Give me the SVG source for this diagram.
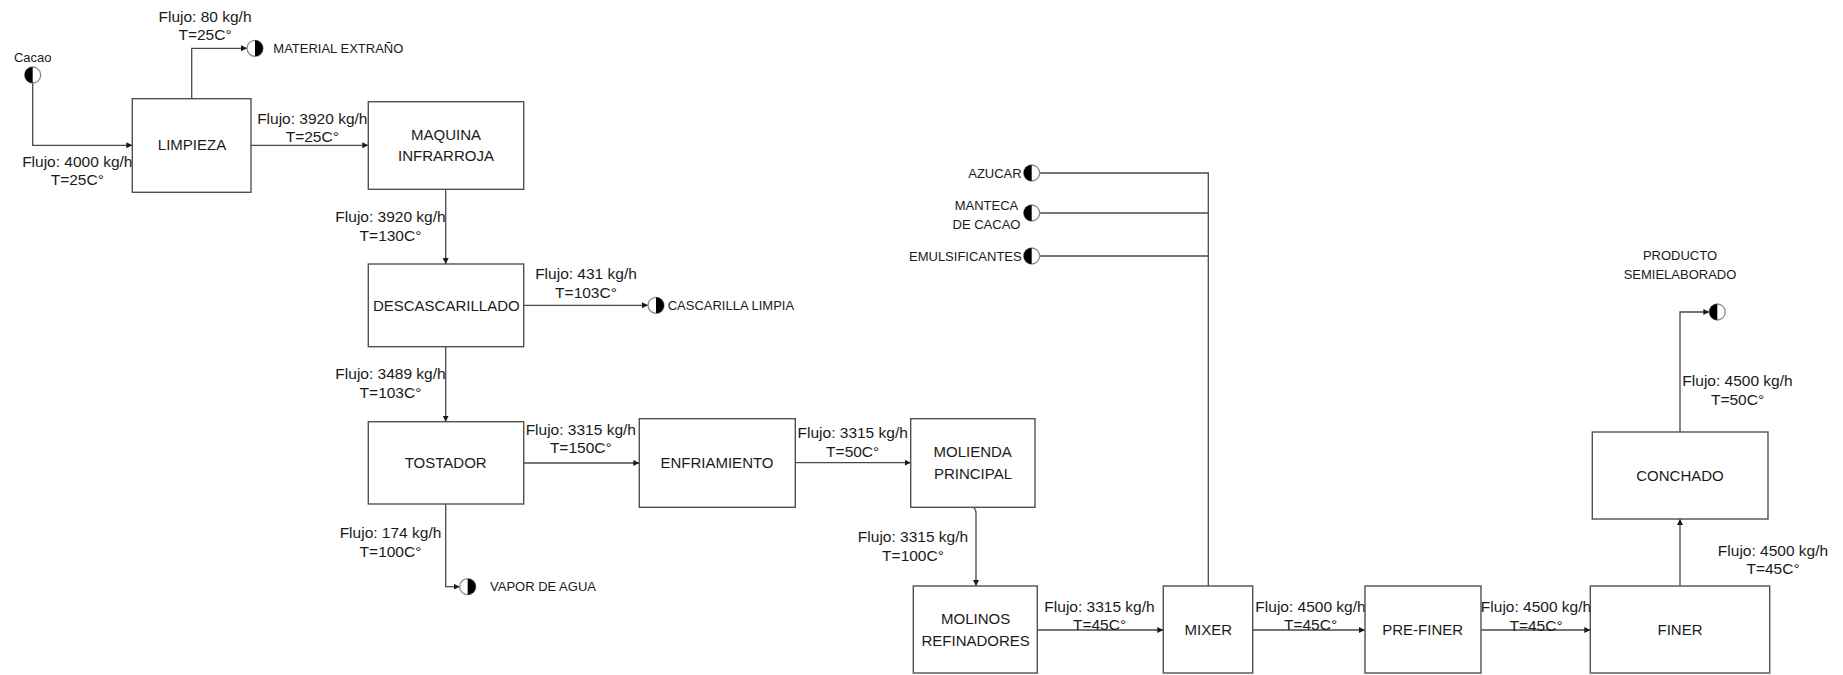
<svg xmlns="http://www.w3.org/2000/svg" width="1843" height="675" viewBox="0 0 1843 675">
<style>
.box{fill:#fff;stroke:#505050;stroke-width:1.4}
.bt{font-family:"Liberation Sans",Arial,sans-serif;font-size:15px;fill:#1a1a1a;text-anchor:middle}
.fl{font-family:"Liberation Sans",Arial,sans-serif;font-size:15.5px;fill:#1a1a1a;text-anchor:middle}
.tl{font-family:"Liberation Sans",Arial,sans-serif;font-size:13px;fill:#1a1a1a}
.ln{fill:none;stroke:#4a4a4a;stroke-width:1.3}
.tc{fill:#fff;stroke:#8a8a8a;stroke-width:1.3}
.th{fill:#000}
</style>
<defs>
<marker id="ar" markerUnits="userSpaceOnUse" markerWidth="7" markerHeight="7" refX="6" refY="3" orient="auto">
<path d="M0,0 L6,3 L0,6 z" fill="#1a1a1a"/>
</marker>
</defs>

<g id="connectors">
<path class="ln" d="M32.7 83 V145.3 H132.3" marker-end="url(#ar)"/>
<path class="ln" d="M191.7 98.7 V48.3 H247" marker-end="url(#ar)"/>
<path class="ln" d="M251 145.3 H368.3" marker-end="url(#ar)"/>
<path class="ln" d="M445.7 189.3 V264" marker-end="url(#ar)"/>
<path class="ln" d="M523.7 305.3 H648" marker-end="url(#ar)"/>
<path class="ln" d="M445.7 346.7 V421.7" marker-end="url(#ar)"/>
<path class="ln" d="M523.7 463 H639.3" marker-end="url(#ar)"/>
<path class="ln" d="M445.7 504 V586.7 H459.7" marker-end="url(#ar)"/>
<path class="ln" d="M795.3 462.7 H910.7" marker-end="url(#ar)"/>
<path class="ln" d="M973.3 507.3 Q976 509 976 514 V586" marker-end="url(#ar)"/>
<path class="ln" d="M1037.3 630 H1163.3" marker-end="url(#ar)"/>
<path class="ln" d="M1039.7 173 H1208.3 V586"/>
<path class="ln" d="M1039.7 213 H1208.3"/>
<path class="ln" d="M1039.7 256 H1208.3"/>
<path class="ln" d="M1252.7 630 H1365" marker-end="url(#ar)"/>
<path class="ln" d="M1481 630 H1590.3" marker-end="url(#ar)"/>
<path class="ln" d="M1680 586 V519" marker-end="url(#ar)"/>
<path class="ln" d="M1680 432 V312 H1709.3" marker-end="url(#ar)"/>
</g>

<g id="flow-labels">
<text class="fl" x="205" y="21.7">Flujo: 80 kg/h</text>
<text class="fl" x="205" y="40">T=25C°</text>
<text class="fl" x="77.3" y="167.3">Flujo: 4000 kg/h</text>
<text class="fl" x="77.3" y="185">T=25C°</text>
<text class="fl" x="312.3" y="124">Flujo: 3920 kg/h</text>
<text class="fl" x="312.3" y="141.7">T=25C°</text>
<text class="fl" x="390.5" y="221.7">Flujo: 3920 kg/h</text>
<text class="fl" x="390.5" y="241">T=130C°</text>
<text class="fl" x="586" y="279.3">Flujo: 431 kg/h</text>
<text class="fl" x="586" y="297.7">T=103C°</text>
<text class="fl" x="390.5" y="379.3">Flujo: 3489 kg/h</text>
<text class="fl" x="390.5" y="397.7">T=103C°</text>
<text class="fl" x="580.8" y="435">Flujo: 3315 kg/h</text>
<text class="fl" x="580.8" y="453.3">T=150C°</text>
<text class="fl" x="390.5" y="538.3">Flujo: 174 kg/h</text>
<text class="fl" x="390.5" y="556.7">T=100C°</text>
<text class="fl" x="852.7" y="438.3">Flujo: 3315 kg/h</text>
<text class="fl" x="852.7" y="457">T=50C°</text>
<text class="fl" x="913" y="541.7">Flujo: 3315 kg/h</text>
<text class="fl" x="913" y="560.7">T=100C°</text>
<text class="fl" x="1099.5" y="611.7">Flujo: 3315 kg/h</text>
<text class="fl" x="1099.5" y="630">T=45C°</text>
<text class="fl" x="1310.5" y="611.7">Flujo: 4500 kg/h</text>
<text class="fl" x="1310.5" y="630">T=45C°</text>
<text class="fl" x="1536" y="612.3">Flujo: 4500 kg/h</text>
<text class="fl" x="1536" y="630.7">T=45C°</text>
<text class="fl" x="1773" y="556">Flujo: 4500 kg/h</text>
<text class="fl" x="1773" y="574.3">T=45C°</text>
<text class="fl" x="1737.5" y="386.3">Flujo: 4500 kg/h</text>
<text class="fl" x="1737.5" y="405">T=50C°</text>
</g>

<g id="limpieza"><rect class="box" x="132.3" y="98.7" width="118.7" height="93.6"/><text class="bt" x="192" y="150.4">LIMPIEZA</text></g>
<g id="maquina-infrarroja"><rect class="box" x="368.3" y="101.7" width="155.4" height="87.6"/><text class="bt" x="446" y="139.7">MAQUINA</text><text class="bt" x="446" y="161.4">INFRARROJA</text></g>
<g id="descascarillado"><rect class="box" x="368.3" y="264" width="155.4" height="82.7"/><text class="bt" x="446.3" y="310.7">DESCASCARILLADO</text></g>
<g id="tostador"><rect class="box" x="368.3" y="421.7" width="155.4" height="82.3"/><text class="bt" x="445.7" y="468">TOSTADOR</text></g>
<g id="enfriamiento"><rect class="box" x="639.3" y="418.7" width="156" height="88.6"/><text class="bt" x="717" y="468.4">ENFRIAMIENTO</text></g>
<g id="molienda-principal"><rect class="box" x="910.7" y="418.7" width="124.3" height="88.6"/><text class="bt" x="972.7" y="457.4">MOLIENDA</text><text class="bt" x="973" y="479.1">PRINCIPAL</text></g>
<g id="molinos-refinadores"><rect class="box" x="913.3" y="586" width="124" height="87"/><text class="bt" x="975.7" y="624.1">MOLINOS</text><text class="bt" x="975.7" y="646.4">REFINADORES</text></g>
<g id="mixer"><rect class="box" x="1163.3" y="586" width="89.4" height="87"/><text class="bt" x="1208.3" y="635.4">MIXER</text></g>
<g id="pre-finer"><rect class="box" x="1365" y="586" width="116" height="87"/><text class="bt" x="1422.7" y="635.4">PRE-FINER</text></g>
<g id="finer"><rect class="box" x="1590.3" y="586" width="179.4" height="87"/><text class="bt" x="1680" y="635.4">FINER</text></g>
<g id="conchado"><rect class="box" x="1592.3" y="432" width="175.7" height="87"/><text class="bt" x="1680" y="481">CONCHADO</text></g>

<g id="t-cacao"><circle class="tc" cx="32.7" cy="75" r="8"/><path class="th" d="M32.7 67 A8 8 0 0 0 32.7 83 Z"/><text class="tl" x="32.7" y="62" text-anchor="middle">Cacao</text></g>
<g id="t-material"><circle class="tc" cx="255" cy="48.3" r="8"/><path class="th" d="M255 40.3 A8 8 0 0 1 255 56.3 Z"/><text class="tl" x="273.3" y="53">MATERIAL EXTRAÑO</text></g>
<g id="t-cascarilla"><circle class="tc" cx="656" cy="305.3" r="8"/><path class="th" d="M656 297.3 A8 8 0 0 1 656 313.3 Z"/><text class="tl" x="667.7" y="310">CASCARILLA LIMPIA</text></g>
<g id="t-vapor"><circle class="tc" cx="467.7" cy="586.7" r="8"/><path class="th" d="M467.7 578.7 A8 8 0 0 1 467.7 594.7 Z"/><text class="tl" x="490" y="591.4">VAPOR DE AGUA</text></g>
<g id="t-azucar"><circle class="tc" cx="1031.7" cy="173" r="8"/><path class="th" d="M1031.7 165 A8 8 0 0 0 1031.7 181 Z"/><text class="tl" x="1021.7" y="177.7" text-anchor="end">AZUCAR</text></g>
<g id="t-manteca"><circle class="tc" cx="1031.7" cy="213" r="8"/><path class="th" d="M1031.7 205 A8 8 0 0 0 1031.7 221 Z"/><text class="tl" x="986.5" y="210.2" text-anchor="middle">MANTECA</text><text class="tl" x="986.5" y="229" text-anchor="middle">DE CACAO</text></g>
<g id="t-emulsificantes"><circle class="tc" cx="1031.7" cy="256" r="8"/><path class="th" d="M1031.7 248 A8 8 0 0 0 1031.7 264 Z"/><text class="tl" x="1021.7" y="260.7" text-anchor="end">EMULSIFICANTES</text></g>
<g id="t-producto"><circle class="tc" cx="1717.3" cy="312" r="8"/><path class="th" d="M1717.3 304 A8 8 0 0 0 1717.3 320 Z"/><text class="tl" x="1680" y="259.7" text-anchor="middle">PRODUCTO</text><text class="tl" x="1680" y="278.7" text-anchor="middle">SEMIELABORADO</text></g>
</svg>
